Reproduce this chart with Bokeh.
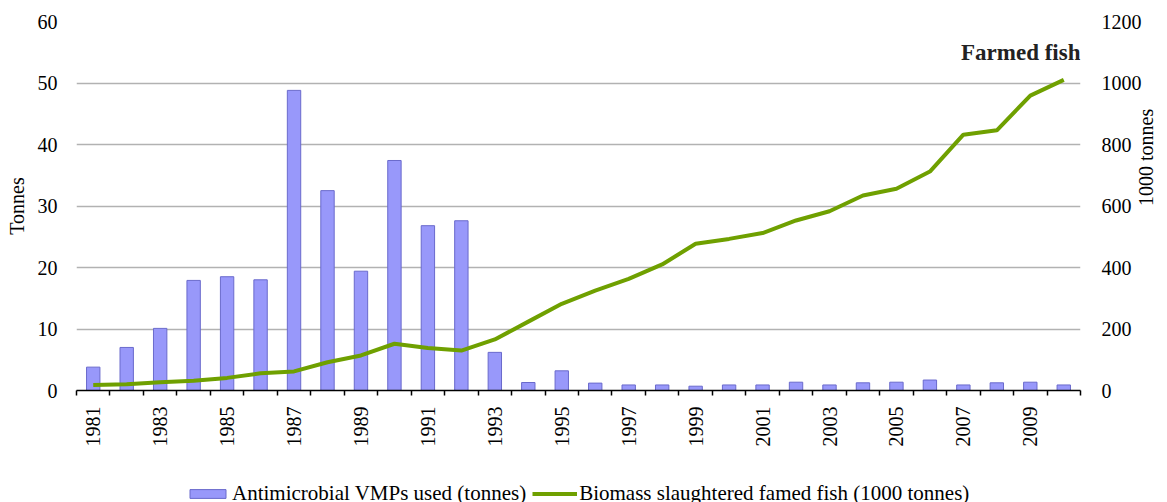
import math
from bokeh.plotting import figure
from bokeh.layouts import column
from bokeh.models import (Range1d, LinearAxis, FixedTicker, SingleIntervalTicker,
                          Legend, LegendItem, Label, ColumnDataSource)
from bokeh.embed import file_html
from bokeh.resources import INLINE

years = list(range(1981, 2011))
antimicrobial_tonnes = [3.8, 7.0, 10.1, 17.9, 18.5, 18.0, 48.8, 32.5, 19.4, 37.4,
                        26.8, 27.6, 6.2, 1.3, 3.2, 1.2, 0.9, 0.9, 0.7, 0.9,
                        0.9, 1.35, 0.9, 1.25, 1.35, 1.7, 0.9, 1.25, 1.35, 0.9]
biomass_kt = [18, 20, 27, 32, 41, 56, 62, 92, 114, 152,
              138, 130, 166, 224, 282, 325, 363, 410, 477, 493,
              512, 553, 583, 634, 656, 712, 832, 846, 959, 1010]
odd_year_labels = [y for y in years if y % 2 == 1]
legend_labels = ["Antimicrobial VMPs used (tonnes)",
                 "Biomass slaughtered famed fish (1000 tonnes)"]

FONT = "Liberation Serif"
BAR_FILL, BAR_LINE, LINE_COLOR = "#9898fa", "#6a6acc", "#6fa000"

src = ColumnDataSource(dict(year=years, amr=antimicrobial_tonnes, bio=biomass_kt))

p = figure(frame_width=1004, frame_height=369,
           x_range=Range1d(years[0] - 0.5, years[-1] + 0.5),
           y_range=Range1d(0, 60),
           output_backend="svg", toolbar_location=None,
           min_border_left=76, min_border_right=87, min_border_top=21,
           min_border_bottom=88)
p.extra_y_ranges = {"fish": Range1d(0, 1200)}
p.outline_line_color = None
p.background_fill_color = "white"
p.border_fill_color = "white"

bars = p.vbar(x="year", top="amr", width=0.4, source=src,
              fill_color=BAR_FILL, line_color=BAR_LINE, line_width=1)
line = p.line(x="year", y="bio", source=src, y_range_name="fish",
              line_color=LINE_COLOR, line_width=4)

# x axis
xa = p.xaxis[0]
xa.ticker = FixedTicker(ticks=odd_year_labels,
                        minor_ticks=[y - 0.5 for y in years] + [years[-1] + 0.5])
xa.major_tick_out = 0
xa.major_tick_in = 0
xa.minor_tick_out = 5
xa.minor_tick_in = 0
xa.minor_tick_line_color = "black"
xa.minor_tick_line_width = 1.5
xa.axis_line_color = "black"
xa.axis_line_width = 1.5
xa.major_label_orientation = math.pi / 2
xa.major_label_standoff = 11
xa.major_label_text_font = FONT
xa.major_label_text_font_size = "20px"
xa.major_label_text_color = "black"

# left y axis
ya = p.yaxis[0]
ya.ticker = SingleIntervalTicker(interval=10)
ya.axis_line_color = None
ya.major_tick_out = 0
ya.major_tick_in = 0
ya.major_tick_line_color = None
ya.minor_tick_line_color = None
ya.major_label_standoff = 15
ya.major_label_text_font = FONT
ya.major_label_text_font_size = "20px"
ya.major_label_text_color = "black"
ya.axis_label = "Tonnes"
ya.axis_label_text_font = FONT
ya.axis_label_text_font_size = "20px"
ya.axis_label_text_font_style = "normal"
ya.axis_label_text_color = "black"
ya.axis_label_standoff = 7

# right y axis
ra = LinearAxis(y_range_name="fish", ticker=SingleIntervalTicker(interval=200))
ra.axis_line_color = None
ra.major_tick_out = 0
ra.major_tick_in = 0
ra.major_tick_line_color = None
ra.minor_tick_line_color = None
ra.major_label_standoff = 17
ra.major_label_text_font = FONT
ra.major_label_text_font_size = "20px"
ra.major_label_text_color = "black"
ra.axis_label = "1000 tonnes"
ra.axis_label_text_font = FONT
ra.axis_label_text_font_size = "20px"
ra.axis_label_text_font_style = "normal"
ra.axis_label_text_color = "black"
ra.axis_label_standoff = 1
try:
    ra.axis_label_orientation = math.pi / 2
except Exception:
    pass
p.add_layout(ra, "right")

p.xgrid.grid_line_color = None
p.ygrid.ticker = SingleIntervalTicker(interval=10)
p.ygrid.grid_line_color = "#b2b2b2"
p.ygrid.grid_line_width = 1.5

title = Label(x=years[-1] + 0.5, y=55, text="Farmed fish", text_align="right",
              text_baseline="middle", text_font=FONT, text_font_size="23px",
              text_font_style="bold", text_color="#222222")
p.add_layout(title)

# legend strip below the chart (same series, drawn out of view; only the legend shows)
p2 = figure(width=1167, height=30,
            x_range=Range1d(years[0] - 0.5, years[-1] + 0.5),
            y_range=Range1d(1100, 1101),
            output_backend="svg", toolbar_location=None, min_border=0,
            x_axis_location=None, y_axis_location=None)
p2.outline_line_color = None
p2.xgrid.grid_line_color = None
p2.ygrid.grid_line_color = None
p2.border_fill_color = "white"
lb = p2.vbar(x="year", top="amr", width=0.4, source=src,
             fill_color=BAR_FILL, line_color=BAR_LINE, line_width=1)
ll = p2.line(x="year", y="bio", source=src, line_color=LINE_COLOR, line_width=4)
legend = Legend(items=[LegendItem(label=legend_labels[0], renderers=[lb]),
                       LegendItem(label=legend_labels[1], renderers=[ll])],
                orientation="horizontal", location=(109, 2),
                label_text_font=FONT, label_text_font_size="21px", label_text_color="black",
                border_line_color=None, background_fill_alpha=0,
                glyph_width=45, glyph_height=11, spacing=6, label_standoff=2,
                padding=2, margin=0)
p2.add_layout(legend)

layout = column(p, p2, spacing=0)
open("out.html", "w").write(file_html(layout, INLINE))
